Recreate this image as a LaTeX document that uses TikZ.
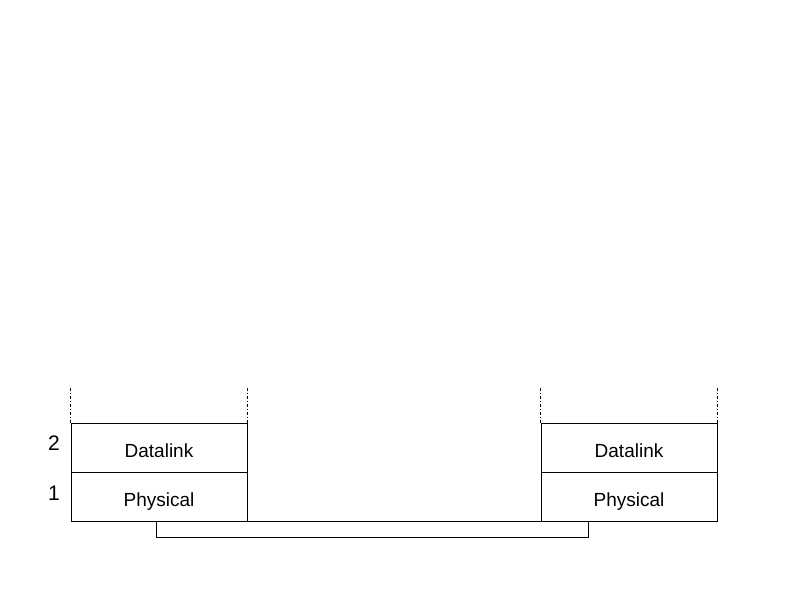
\documentclass[tikz,border=0pt]{standalone}
\usepackage{fontspec}
\setmainfont{Liberation Sans}
\usepackage{tikz}
\usetikzlibrary{positioning}
\tikzstyle{layer} = [draw, rectangle, line width=0.8pt, minimum width=176pt, minimum height=49pt, inner sep=0pt, text height=19pt, text depth=0pt, font=\fontsize{19}{22}\selectfont]
\tikzstyle{levelnum} = [font=\fontsize{21}{25}\selectfont, yshift=4pt]
\tikzstyle{stackedge} = [dash dot, line width=0.6pt]

\begin{document}
\begin{tikzpicture}[thick]
			\useasboundingbox (0,0) rectangle (794pt,595pt);
  			\node[layer] (dlA) at (159pt,147.5pt) {Datalink};
	  		\node[layer,below=0pt of dlA] (phA) {Physical};
  			\node[layer] (dlB) at (629pt,147.5pt) {Datalink};
  			\node[layer,below=0pt of dlB] (phB) {Physical};
			\node[levelnum,left=7pt of dlA] (two) {2};
			\node[levelnum,left=7pt of phA] (one) {1};
			\node[draw,rectangle,line width=0.8pt,minimum width=432pt,minimum height=16pt,inner sep=0pt] (wire) at (372pt,66pt) {};

  			% dotted edges above each stack
  			\draw[stackedge] (dlA.north west) -- ++(0,35pt);
  			\draw[stackedge] (dlA.north east) -- ++(0,35pt);
			\draw[stackedge] (dlB.north west) -- ++(0,35pt);
			\draw[stackedge] (dlB.north east) -- ++(0,35pt);
		\end{tikzpicture}
\end{document}
